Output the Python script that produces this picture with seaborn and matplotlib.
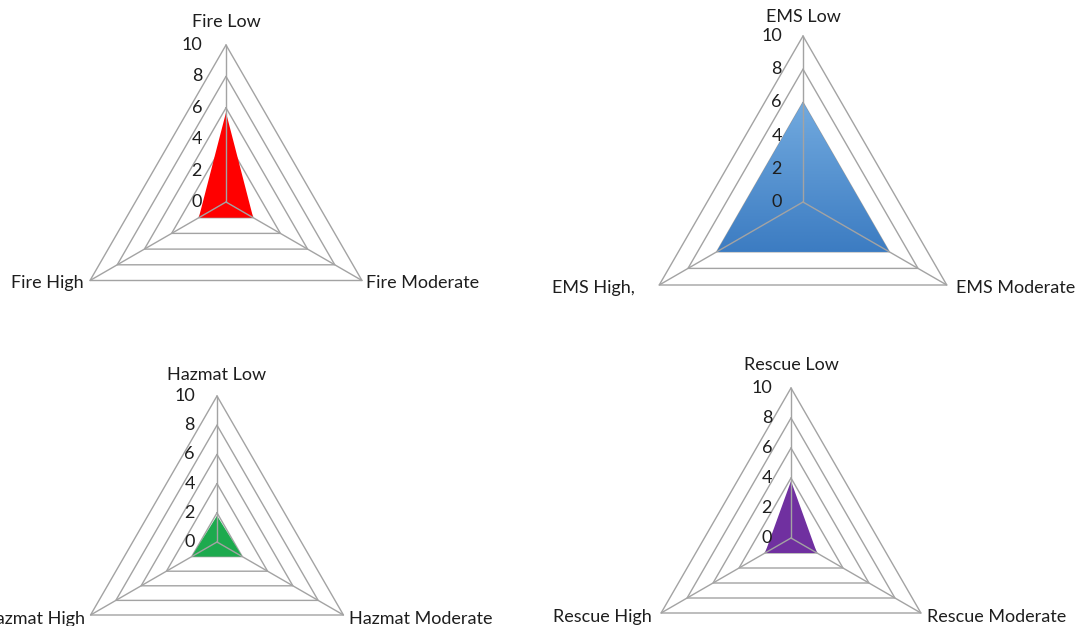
import numpy as np
import matplotlib
matplotlib.use("Agg")
import matplotlib.pyplot as plt
import matplotlib.transforms as mtransforms
from matplotlib.image import AxesImage
from matplotlib.colors import LinearSegmentedColormap
import seaborn as sns

# ---------------- data ----------------
fire_labels = ["Fire Low", "Fire Moderate", "Fire High"]
fire_values = [5.7, 2.0, 2.0]

ems_labels = ["EMS Low", "EMS Moderate", "EMS High,"]
ems_values = [6.0, 6.0, 6.0]

hazmat_labels = ["Hazmat Low", "Hazmat Moderate", "Hazmat High"]
hazmat_values = [1.8, 2.0, 2.0]

rescue_labels = ["Rescue Low", "Rescue Moderate", "Rescue High"]
rescue_values = [3.8, 2.0, 2.0]

tick_values = [0, 2, 4, 6, 8, 10]
tick_labels = ["0", "2", "4", "6", "8", "10"]

# ---------------- style ----------------
sns.set_theme(style="white")
plt.rcParams["font.family"] = ["Lato", "DejaVu Sans"]

W, H = 1084, 626
GRID = "#A3A3A3"
TEXT = "#1E1E1E"
FS = 13

fig = plt.figure(figsize=(W / 100, H / 100), dpi=100)
fig.patch.set_facecolor("white")

# layout: centre (px from top-left), radius px, label offsets
layout = [
    dict(c=(226, 202), r=157, top=23, left=-6, right=4, dy=-2, tx=-24),
    dict(c=(803, 202), r=166, top=19, left=-24, right=9, dy=-3, tx=-21),
    dict(c=(217, 542), r=146, top=21, left=-6, right=6, dy=-4, tx=-22),
    dict(c=(791, 538), r=150, top=23, left=-9, right=6, dy=-4, tx=-19),
]

charts = [
    (fire_labels, fire_values, "#FF0000", None),
    (ems_labels, ems_values, "#4F8FD0", ("#72AADF", "#3C7CC2")),
    (hazmat_labels, hazmat_values, "#1DAA4E", None),
    (rescue_labels, rescue_values, "#7030A0", None),
]

rmax = tick_values[-1]
theta = np.array([0.0, 2 * np.pi / 3, 4 * np.pi / 3])
theta_closed = np.append(theta, theta[0])

for (labels, values, color, grad), lay in zip(charts, layout):
    cx, cy = lay["c"]
    r = lay["r"]
    rect = [(cx - r) / W, (H - cy - r) / H, 2 * r / W, 2 * r / H]
    ax = fig.add_axes(rect, projection="polar")
    ax.set_theta_offset(np.pi / 2)
    ax.set_theta_direction(-1)
    ax.set_ylim(0, rmax)
    ax.grid(False)
    ax.set_xticks([])
    ax.set_yticks([])
    ax.spines["polar"].set_visible(False)
    ax.set_facecolor("none")

    # rings
    for t in tick_values[1:]:
        ax.plot(theta_closed, [t] * 4, color=GRID, lw=1.0, zorder=1, clip_on=False)

    # filled area
    poly = ax.fill(theta, values, color=color, lw=0, zorder=2)[0]
    if grad is not None:
        cmap = LinearSegmentedColormap.from_list("g", [grad[1], grad[0]])
        y_top = 0.5 + 0.5 * values[0] / rmax
        y_bot = 0.5 - 0.25 * min(values[1], values[2]) / rmax
        im = AxesImage(ax, cmap=cmap, interpolation="bilinear",
                       extent=(0, 1, y_bot, y_top), origin="lower",
                       transform=ax.transAxes, zorder=2.2)
        im.set_data(np.linspace(0, 1, 256).reshape(-1, 1))
        im.set_clip_path(poly)
        ax.add_image(im)

    # spokes
    for th in theta:
        ax.plot([th, th], [0, rmax], color=GRID, lw=1.0, zorder=3, clip_on=False)

    # value-axis labels
    toff = mtransforms.offset_copy(ax.transData, fig=fig, x=lay["tx"], y=0, units="dots")
    for t, tl in zip(tick_values, tick_labels):
        ax.text(0, t, tl, transform=toff, ha="right", va="center",
                fontsize=FS, color=TEXT, zorder=4)

    # category labels
    o_top = mtransforms.offset_copy(ax.transData, fig=fig, x=0, y=lay["top"], units="dots")
    o_right = mtransforms.offset_copy(ax.transData, fig=fig, x=lay["right"], y=lay["dy"], units="dots")
    o_left = mtransforms.offset_copy(ax.transData, fig=fig, x=lay["left"], y=lay["dy"], units="dots")
    ax.text(theta[0], rmax, labels[0], transform=o_top, ha="center", va="center",
            fontsize=FS, color=TEXT, clip_on=False)
    ax.text(theta[1], rmax, labels[1], transform=o_right, ha="left", va="center",
            fontsize=FS, color=TEXT, clip_on=False)
    ax.text(theta[2], rmax, labels[2], transform=o_left, ha="right", va="center",
            fontsize=FS, color=TEXT, clip_on=False)

fig.savefig("out.png", dpi=100, facecolor="white")
